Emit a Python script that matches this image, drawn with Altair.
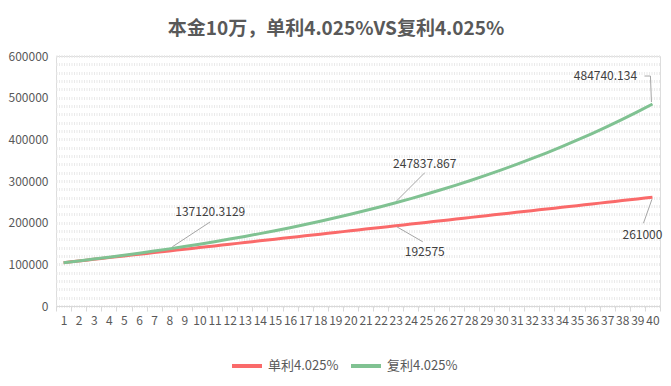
import altair as alt
import pandas as pd

# ---------------- data ----------------
years = list(range(1, 41))
simple_vals = [104025, 108050, 112075, 116100, 120125, 124150, 128175, 132200, 136225, 140250,
               144275, 148300, 152325, 156350, 160375, 164400, 168425, 172450, 176475, 180500,
               184525, 188550, 192575, 196600, 200625, 204650, 208675, 212700, 216725, 220750,
               224775, 228800, 232825, 236850, 240875, 244900, 248925, 252950, 256975, 261000]
compound_vals = [104025.00, 108212.01, 112567.54, 117098.38, 121811.59, 126714.51, 131814.77, 137120.31,
                 142639.40, 148380.64, 154352.96, 160565.67, 167028.44, 173751.33, 180744.82, 188019.80,
                 195587.60, 203460.00, 211649.27, 220168.15, 229029.92, 238248.37, 247837.87, 257813.34,
                 268190.33, 278984.99, 290214.14, 301895.26, 314046.54, 326686.91, 339836.06, 353514.46,
                 367743.42, 382545.09, 397942.53, 413959.72, 430621.60, 447954.12, 465984.27, 484740.13]
series_names = ["单利4.025%", "复利4.025%"]
title_text = "本金10万，单利4.025%VS复利4.025%"

# data labels: (series index, year, text)
label_series = [1, 1, 0, 1, 0]
label_years = [8, 23, 23, 40, 40]
label_texts = ["137120.3129", "247837.867", "192575", "484740.134", "261000"]

# ---------------- styling ----------------
FONT = "Noto Sans CJK SC"
RED = "#FA6A6A"
GREEN = "#80C292"
AXIS_GRAY = "#595959"
LEAD = "#A6A6A6"
label_offsets = [(41, -37), (29, -39), (29, 26), (-47, -28), (-10, 38)]
leader_segments = [
    [((3, -2), (41, -27))],
    [((1, -2), (29, -30))],
    [((1, 1), (27, 16))],
    [((-1, -2), (-2, -28)), ((-2, -28), (-8, -28))],
    [((-0.5, 2), (-9, 26))],
]

rows = []
for n, v in zip(years, simple_vals):
    rows.append({"n": n, "value": v, "series": series_names[0]})
for n, v in zip(years, compound_vals):
    rows.append({"n": n, "value": v, "series": series_names[1]})
df = pd.DataFrame(rows)

vals_by_series = [simple_vals, compound_vals]

x_ticks = [i / 2 for i in range(1, 82)]  # 0.5 .. 40.5
y_ticks = list(range(0, 600001, 20000))

x_scale = alt.Scale(domain=[0.5, 40.5], nice=False, zero=False)
y_scale = alt.Scale(domain=[0, 600000], nice=False)

x_axis = alt.Axis(
    values=x_ticks,
    labelExpr="datum.value % 1 == 0 ? format(datum.value, 'd') : ''",
    labelOverlap=False, labelFlush=False, labelBound=False,
    grid=False, title=None,
    tickSize=5, tickColor="#D9D9D9",
    tickOpacity={"condition": {"test": "datum.value % 1 != 0", "value": 1}, "value": 0},
    domainColor="#D9D9D9", domainWidth=1,
    labelFont=FONT, labelFontSize=12, labelColor=AXIS_GRAY, labelPadding=4,
)
y_axis = alt.Axis(
    values=y_ticks,
    labelExpr="datum.value % 100000 == 0 ? format(datum.value, 'd') : ''",
    labelOverlap=False, grid=True, gridColor="#EAEAEA", gridWidth=3, gridDash=[1, 1.5],
    ticks=False, domain=False, title=None,
    labelFont=FONT, labelFontSize=12, labelColor=AXIS_GRAY, labelPadding=8,
)

X = alt.X("n:Q", scale=x_scale, axis=x_axis)
Y = alt.Y("value:Q", scale=y_scale, axis=y_axis)

lines = alt.Chart(df).mark_line(strokeWidth=3, interpolate="monotone").encode(
    x=X,
    y=Y,
    color=alt.Color(
        "series:N",
        scale=alt.Scale(domain=series_names, range=[RED, GREEN]),
        legend=alt.Legend(
            title=None, orient="none", legendX=174, legendY=293, direction="horizontal",
            symbolType="stroke", symbolSize=900, symbolStrokeWidth=4,
            labelFont=FONT, labelFontSize=13, labelColor=AXIS_GRAY,
            labelOffset=4, columnPadding=4,
        ),
    ),
)

layers = [lines]
for i in range(len(label_texts)):
    s = label_series[i]
    n = label_years[i]
    ldf = pd.DataFrame([{"n": n, "value": vals_by_series[s][n - 1], "text": label_texts[i]}])
    base = alt.Chart(ldf)
    for (a, b) in leader_segments[i]:
        layers.append(
            base.mark_rule(color=LEAD, strokeWidth=1,
                           xOffset=a[0], yOffset=a[1], x2Offset=b[0], y2Offset=b[1]).encode(
                x=X, x2="n", y=Y, y2="value",
            )
        )
    dx, dy = label_offsets[i]
    layers.append(
        base.mark_text(font=FONT, fontSize=12, color="#404040", dx=dx, dy=dy,
                       align="center", baseline="middle").encode(
            x=X, y=Y, text="text:N",
        )
    )

chart = alt.layer(*layers).properties(
    width=604, height=250,
    autosize=alt.AutoSizeParams(type="none"),
    padding={"left": 48, "top": 48, "right": 3, "bottom": 72},
    title=alt.TitleParams(
        text=title_text, font=FONT, fontSize=19, fontWeight="bold", color=AXIS_GRAY,
        anchor="middle", dx=-22, offset=11,
    ),
).configure_view(stroke=None).configure(background="white")

chart.save("out.html", embed_options={"renderer": "svg", "actions": False})
